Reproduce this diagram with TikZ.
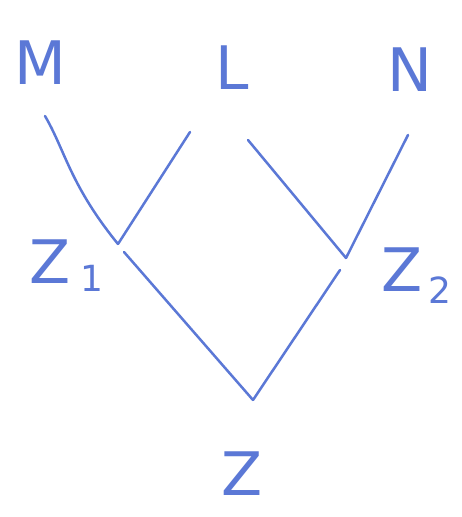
\documentclass[tikz,border=0pt]{standalone}
\usepackage{fontspec}
\setmainfont{DejaVu Sans}
\definecolor{pen}{HTML}{5B78D6}
\begin{document}
\begin{tikzpicture}[x=1pt,y=-1pt,
  lbl/.style={text=pen,font=\fontsize{60}{60}\selectfont, inner sep=0pt},
  sub/.style={text=pen,font=\fontsize{36}{36}\selectfont, inner sep=0pt},
  ln/.style={draw=pen,line width=2.5pt,line cap=round}]
\useasboundingbox[fill=white] (0,0) rectangle (462,517);
\node[lbl] (M) at (40,63) {M};
\node[lbl] (L) at (232,68) {L};
\node[lbl] (N) at (410,70) {N};
\node[lbl] (Z1) at (50,262) {Z};
\node[sub] (s1) at (92,278) {1};
\node[lbl] (Z2) at (402,270) {Z};
\node[sub] (s2) at (440,290) {2};
\node[lbl] (Z) at (242,474) {Z};
\coordinate (m) at (45,116);
\coordinate (la) at (190,132);
\coordinate (lb) at (248,140);
\coordinate (n) at (408,135);
\coordinate (z1a) at (118,244);
\coordinate (z1b) at (124,252);
\coordinate (z2a) at (346,258);
\coordinate (z2b) at (340,270);
\coordinate (z) at (253,400);
\draw[ln] (m) .. controls (65,150) and (70,185) .. (z1a);
\draw[ln] (la) -- (z1a);
\draw[ln] (lb) -- (z2a);
\draw[ln] (n) -- (z2a);
\draw[ln] (z1b) -- (z);
\draw[ln] (z2b) -- (z);
\end{tikzpicture}
\end{document}
